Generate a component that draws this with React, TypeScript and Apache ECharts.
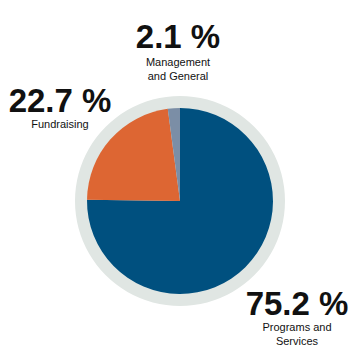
import React, { useEffect, useRef } from "react";
import * as echarts from "echarts";

const categories = ["Programs and\nServices", "Fundraising", "Management\nand General"];
const values = [75.2, 22.7, 2.1];
const colors = ["#00507f", "#dd6633", "#7b8ea6"];

export default function App() {
  const ref = useRef<HTMLDivElement>(null);
  useEffect(() => {
    const chart = echarts.init(ref.current!, null, { renderer: "svg" });
    const big = (i: number, x: number, y: number) => ({
      type: "text",
      x,
      y,
      style: {
        text: values[i].toFixed(1) + " %",
        font: "bold 33px 'Liberation Sans', Arial, sans-serif",
        fill: "#111",
        align: "center",
        verticalAlign: "middle",
      },
    });
    const small = (i: number, x: number, y: number) => ({
      type: "text",
      x,
      y,
      style: {
        text: categories[i],
        font: "11px 'Liberation Sans', Arial, sans-serif",
        fill: "#111",
        align: "center",
        verticalAlign: "top",
        lineHeight: 14,
      },
    });
    chart.setOption({
      animation: false,
      backgroundColor: "#fff",
      series: [
        {
          type: "pie",
          silent: true,
          center: [180, 201],
          radius: [0, 105],
          label: { show: false },
          labelLine: { show: false },
          itemStyle: { color: "#e0e6e3" },
          data: [{ value: 1, name: "ring" }],
          z: 1,
        },
        {
          type: "pie",
          center: [180, 201],
          radius: [0, 93],
          startAngle: 90,
          clockwise: true,
          label: { show: false },
          labelLine: { show: false },
          itemStyle: { borderWidth: 0 },
          data: categories.map((c, i) => ({ name: c, value: values[i], itemStyle: { color: colors[i] } })),
          z: 2,
        },
      ],
      graphic: [
        big(2, 178, 36),
        small(2, 178, 55),
        big(1, 60, 100),
        small(1, 60, 117),
        big(0, 297, 303),
        small(0, 297, 320),
      ],
    });
    return () => chart.dispose();
  }, []);
  return <div ref={ref} style={{ width: 360, height: 360, margin: -8 }} />;
}
